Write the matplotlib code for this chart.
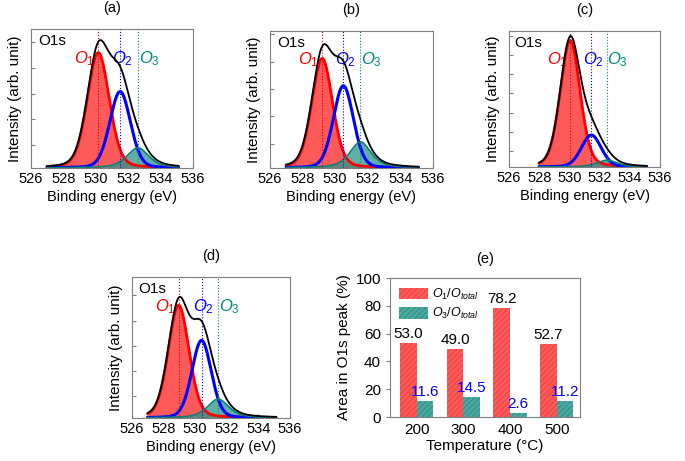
import numpy as np
import matplotlib.pyplot as plt

plt.rcParams['font.family'] = ['Liberation Sans', 'DejaVu Sans']
plt.rcParams['mathtext.fontset'] = 'custom'
plt.rcParams['mathtext.it'] = 'Liberation Sans:italic'
plt.rcParams['mathtext.rm'] = 'Liberation Sans'
plt.rcParams['hatch.linewidth'] = 0.6

# O1s fitted components: O1, O2, O3 (centre eV, height normalised to frame, FWHM eV)
panel_tags = ['(a)', '(b)', '(c)', '(d)']
energy_start = [527.0, 527.0, 528.0, 527.0]
energy_end = 535.1
centers = [[530.15, 531.5, 532.6],
           [529.2, 530.5, 531.55],
           [530.05, 531.45, 532.5],
           [528.95, 530.4, 531.45]]
heights = [[0.83, 0.55, 0.145],
           [0.80, 0.60, 0.19],
           [0.93, 0.235, 0.05],
           [0.80, 0.55, 0.134]]
fwhms = [[1.6, 1.5, 1.6],
         [1.5, 1.45, 1.55],
         [1.55, 1.55, 1.6],
         [1.55, 1.45, 1.6]]
lorentz_frac = [0.2, 0.15, 0.6]
ytick_first = [0.165, 0.176, 0.118, 0.153]
ytick_step = [0.185, 0.2, 0.141, 0.179]

# (e) area ratios
temps = ['200', '300', '400', '500']
o1_ratio = [53.0, 49.0, 78.2, 52.7]
o3_ratio = [11.6, 14.5, 2.6, 11.2]

W, H = 685, 461
frames = [(31, 193, 29, 168), (270, 433, 31, 168), (509, 660, 31, 167),
          (132, 290, 277, 418), (390, 580, 278, 417)]


def pseudo_voigt(x, c, h, w, eta):
    t = 2 * (x - c) / w
    return h * ((1 - eta) * np.exp(-np.log(2) * t ** 2) + eta / (1 + t ** 2))


def make_axes(fig, fr):
    l, r, t, b = fr
    return fig.add_axes([l / W, 1 - b / H, (r - l) / W, (b - t) / H])


def style_frame(ax):
    for s in ax.spines.values():
        s.set_color('#7f7f7f')
        s.set_linewidth(0.8)


fig = plt.figure(figsize=(W / 100, H / 100), dpi=100)

peak_colors = ['#ff0000', '#0000ff', '#008b80']
line_colors = ['#d00000', '#0000ff', '#008b80']
label_dx = [-0.85, 0.15, 0.7]
names = [r'$O_1$', r'$O_2$', r'$O_3$']

for i in range(4):
    ax = make_axes(fig, frames[i])
    x = np.linspace(energy_start[i], energy_end, 600)
    comps = [pseudo_voigt(x, c, h, w, e)
             for c, h, w, e in zip(centers[i], heights[i], fwhms[i], lorentz_frac)]
    env = comps[0] + comps[1] + comps[2]

    ax.fill_between(x, 0, comps[0], color='#ff5a5a', lw=0)
    ax.plot(x, comps[0], color='#ff0000', lw=2)
    ax.plot(x, comps[1], color='#0000ff', lw=2.2)
    ax.fill_between(x, 0, comps[2], color='#2a958a', alpha=0.75, lw=0)
    ax.plot(x, comps[2], color='#0f7f74', lw=1.2)
    for c, col in zip(centers[i], line_colors):
        ax.axvline(c, color=col, ls=':', lw=0.8, zorder=3)
    ax.plot(x, env, color='black', lw=1.3, zorder=4)

    ax.text(0.13, 0.915, 'O1s', transform=ax.transAxes, ha='center', va='center', fontsize=11)
    tr = ax.get_xaxis_transform()
    for c, col, dx, nm in zip(centers[i], peak_colors, label_dx, names):
        ax.text(c + dx, 0.79, nm, transform=tr, color=col, ha='center', va='center', fontsize=12)

    ax.set_xlim(526, 536)
    ax.set_ylim(0, 1)
    ax.set_xticks(np.arange(526, 537, 2))
    ax.set_yticks(np.arange(ytick_first[i], 1.0, ytick_step[i]))
    ax.set_yticklabels([])
    ax.tick_params(direction='in', length=3, labelsize=10.5, color='#7f7f7f')
    ax.tick_params(axis='x', pad=3)
    ax.set_xlabel('Binding energy (eV)', fontsize=10.5, labelpad=3)
    ax.set_ylabel('Intensity (arb. unit)', fontsize=11, labelpad=3)
    ax.set_title(panel_tags[i], fontsize=10.5, pad=12)
    style_frame(ax)

# (e) bar chart
ax = make_axes(fig, frames[4])
xs = np.arange(len(temps))
bw = 0.355
ax.bar(xs - bw / 2, o1_ratio, bw, facecolor='#ff5a5a', edgecolor='#e63c3c',
       hatch='//////', lw=0, label=r'$O_1/O_{total}$')
ax.bar(xs + bw / 2, o3_ratio, bw, facecolor='#4aa8a0', edgecolor='#2d8a82',
       hatch='//////', lw=0, label=r'$O_3/O_{total}$')
for xi, v in zip(xs, o1_ratio):
    ax.text(xi - bw / 2, v + 1.5, f'{v:.1f}', ha='center', va='bottom', fontsize=11)
for xi, v in zip(xs, o3_ratio):
    ax.text(xi + bw / 2, v + 1.5, f'{v:.1f}', ha='center', va='bottom', fontsize=11, color='#0000ff')
ax.set_xlim(-0.57, 3.5)
ax.set_ylim(0, 100)
ax.set_yticks(range(0, 101, 20))
ax.set_xticks(xs)
ax.set_xticklabels(temps)
ax.tick_params(axis='y', direction='out', length=3, labelsize=11, color='#7f7f7f')
ax.tick_params(axis='x', length=0, labelsize=11, pad=4)
ax.set_xlabel('Temperature (\u00b0C)', fontsize=11, labelpad=2)
ax.set_ylabel('Area in O1s peak (%)', fontsize=11, labelpad=3)
ax.set_title('(e)', fontsize=10.5, pad=11)
ax.legend(loc='upper left', frameon=False, fontsize=9, handlelength=2.3, handleheight=1.0,
          labelspacing=0.35, handletextpad=0.4, borderaxespad=0.3)
style_frame(ax)

fig.savefig('out.png', dpi=100)
